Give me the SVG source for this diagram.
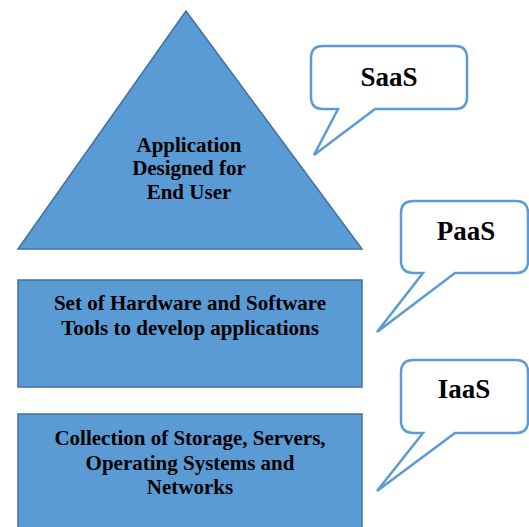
<svg xmlns="http://www.w3.org/2000/svg" width="529" height="527" viewBox="0 0 529 527">
<style>
.shape{fill:#5B9BD5;stroke:#41719C;stroke-width:1.5}
.call{fill:#FFFFFF;stroke:#5B9BD5;stroke-width:2.5;stroke-linejoin:miter}
.t{font-family:"Liberation Serif","Times New Roman",serif;font-weight:bold;font-size:21px;fill:#000;text-anchor:middle}
.ct{font-family:"Liberation Serif","Times New Roman",serif;font-weight:bold;font-size:27px;fill:#000;text-anchor:middle}
</style>
<rect width="529" height="527" fill="#FFFFFF"/>
<g id="saas-layer">
<polygon class="shape" points="186,11 18,249 362,249"/>
<text class="t" x="189" y="152">Application</text>
<text class="t" x="189" y="175">Designed for</text>
<text class="t" x="189" y="199">End User</text>
</g>
<g id="paas-layer">
<rect class="shape" x="18" y="280" width="344" height="107"/>
<text class="t" x="190" y="310">Set of Hardware and Software</text>
<text class="t" x="190" y="335">Tools to develop applications</text>
</g>
<g id="iaas-layer">
<rect class="shape" x="18" y="414" width="344" height="130"/>
<text class="t" x="190" y="445">Collection of Storage, Servers,</text>
<text class="t" x="190" y="470">Operating Systems and</text>
<text class="t" x="190" y="494">Networks</text>
</g>
<g id="connectors">
<g id="saas-callout">
<path class="call" d="M323,46 H455 Q467,46 467,58 V97 Q467,109 455,109 H375 L314,155 L338,109 H323 Q311,109 311,97 V58 Q311,46 323,46 Z"/>
<text class="ct" x="389" y="86">SaaS</text>
</g>
<g id="paas-callout">
<path class="call" d="M414,201 H516 Q528,201 528,213 V261 Q528,273 516,273 H455 L377,332 L423,273 H414 Q401,273 401,261 V213 Q401,201 414,201 Z"/>
<text class="ct" x="466" y="240">PaaS</text>
</g>
<g id="iaas-callout">
<path class="call" d="M414,360 H516 Q528,360 528,372 V421 Q528,433 516,433 H455 L377,491 L423,433 H414 Q401,433 401,421 V372 Q401,360 414,360 Z"/>
<text class="ct" x="464" y="398">IaaS</text>
</g>
</g>
</svg>
